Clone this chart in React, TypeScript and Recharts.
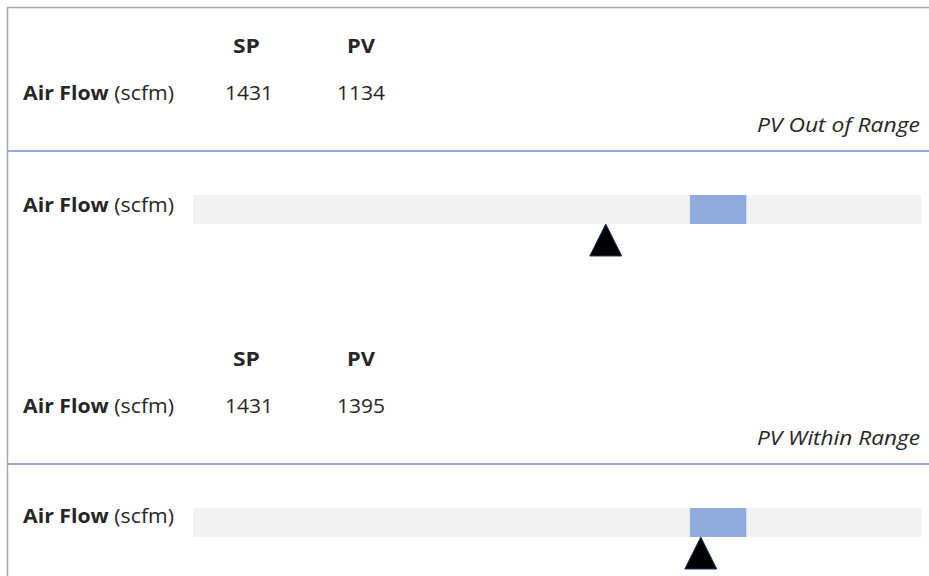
import { ComposedChart, Bar, XAxis, YAxis, ReferenceDot } from "recharts";

const metrics = ["Air Flow (scfm)"];
const scenarios = ["PV Out of Range", "PV Within Range"];
const spValues = [1431, 1431];
const pvValues = [1134, 1395];
const rangeLow = [1365, 1365];
const rangeHigh = [1520, 1520];
const axisMax = 2000;

const FONT = "'Open Sans', sans-serif";
const TEXT = "#262626";
const PANEL_STEP = 313;

function Triangle(props: any) {
  const { cx, cy } = props;
  const top = cy + 15;
  const h = 32;
  return (
    <path
      d={`M${cx},${top} L${cx + 16},${top + h} L${cx - 16},${top + h} Z`}
      fill="#000"
      stroke="#1f3864"
      strokeWidth={1}
    />
  );
}

function Panel({ index }: { index: number }) {
  const dy = index * PANEL_STEP;
  const data = [
    {
      name: metrics[0],
      base: rangeLow[index],
      band: rangeHigh[index] - rangeLow[index],
      pv: pvValues[index],
    },
  ];
  const fit = { lengthAdjust: "spacingAndGlyphs" as const };

  return (
    <>
      <svg
        width={929}
        height={330}
        style={{ position: "absolute", left: 0, top: dy }}
      >
        <g fontFamily={FONT} fill={TEXT} fontSize={19.5}>
          <text x={233} y={53} fontWeight="bold" textLength={27} {...fit}>SP</text>
          <text x={347} y={53} fontWeight="bold" textLength={28} {...fit}>PV</text>
          <text x={23} y={100} textLength={151} {...fit}>
            <tspan fontWeight="bold">Air Flow</tspan> (scfm)
          </text>
          <text x={225} y={100} textLength={48} {...fit}>{spValues[index]}</text>
          <text x={337} y={100} textLength={48} {...fit}>{pvValues[index]}</text>
          <text x={757} y={132} fontStyle="italic" textLength={163} {...fit}>
            {scenarios[index]}
          </text>
          <text x={23} y={212 - index * 2} textLength={151} {...fit}>
            <tspan fontWeight="bold">Air Flow</tspan> (scfm)
          </text>
        </g>
        <line x1={7} x2={929} y1={151} y2={151} stroke="#8faadc" strokeWidth={2} />
      </svg>
      <div style={{ position: "absolute", left: 193, top: 149 + dy }}>
        <ComposedChart
          layout="vertical"
          width={728}
          height={120}
          data={data}
          margin={{ top: 0, right: 0, bottom: 0, left: 0 }}
        >
          <XAxis type="number" domain={[0, axisMax]} hide />
          <YAxis type="category" dataKey="name" hide />
          <Bar
            dataKey="base"
            stackId="r"
            fill="transparent"
            barSize={29}
            background={{ fill: "#f2f2f2" }}
            isAnimationActive={false}
          />
          <Bar
            dataKey="band"
            stackId="r"
            fill="#8faadc"
            barSize={29}
            isAnimationActive={false}
          />
          <ReferenceDot
            x={data[0].pv}
            y={data[0].name}
            r={16}
            shape={Triangle}
            ifOverflow="visible"
          />
        </ComposedChart>
      </div>
    </>
  );
}

export default function App() {
  return (
    <div
      style={{
        position: "absolute",
        left: 0,
        top: 0,
        width: 929,
        height: 576,
        background: "#fff",
        overflow: "hidden",
      }}
    >
      {scenarios.map((_, i) => (
        <Panel key={i} index={i} />
      ))}
      <svg width={929} height={576} style={{ position: "absolute", left: 0, top: 0 }}>
        <line x1={7} x2={929} y1={7.5} y2={7.5} stroke="#a6a6a6" strokeWidth={1.5} />
        <line x1={7.5} x2={7.5} y1={7} y2={576} stroke="#a6a6a6" strokeWidth={1.5} />
      </svg>
    </div>
  );
}
